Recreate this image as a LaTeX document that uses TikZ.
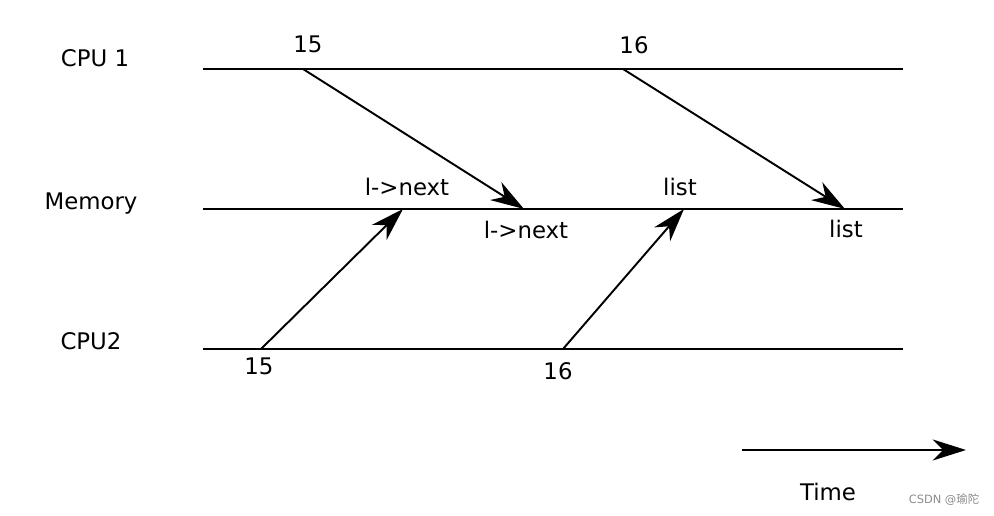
\documentclass[tikz,border=0pt]{standalone}
\usepackage{fontspec}
\setmainfont{DejaVu Sans}
\newfontfamily\cjkfont{Noto Sans CJK SC}
\usetikzlibrary{arrows.meta}
\begin{document}
\begin{tikzpicture}[x=0.02cm,y=-0.02cm,
  timeline/.style={line width=1.1pt},
  msg/.style={line width=1.1pt,-{Stealth[length=19pt,width=12pt,inset=6pt]}},
  lbl/.style={font=\fontsize{13}{15}\selectfont,inner sep=0pt}]
\useasboundingbox (0,0) rectangle (994,516);

% time lines
\coordinate (c1s) at (203,69);  \coordinate (c1e) at (903,69);
\coordinate (ms)  at (203,209); \coordinate (me)  at (903,209);
\coordinate (c2s) at (203,349); \coordinate (c2e) at (903,349);
\draw[timeline] (c1s) -- (c1e);
\draw[timeline] (ms) -- (me);
\draw[timeline] (c2s) -- (c2e);

% events
\coordinate (w15) at (303,69);  \coordinate (m15) at (524,209);
\coordinate (w16) at (623,69);  \coordinate (m16) at (845,209);
\coordinate (r15) at (261,349); \coordinate (n15) at (403,209);
\coordinate (r16) at (563,349); \coordinate (n16) at (684,209);
\draw[msg] (w15) -- (m15);
\draw[msg] (w16) -- (m16);
\draw[msg] (r15) -- (n15);
\draw[msg] (r16) -- (n16);

% time axis
\coordinate (t0) at (742,450); \coordinate (t1) at (966,450);
\draw[msg] (t0) -- (t1);

% labels
\node[lbl] (cpu1) at (95,58) {CPU 1};
\node[lbl] (mem) at (91,204) {Memory};
\node[lbl] (cpu2) at (91,341) {CPU2};
\node[lbl] (a) at (308,44) {15};
\node[lbl] (b) at (634,45) {16};
\node[lbl] (c) at (407,187) {l->next};
\node[lbl] (d) at (680,187) {list};
\node[lbl] (e) at (526,230) {l->next};
\node[lbl] (f) at (846,229) {list};
\node[lbl] (g) at (259,366) {15};
\node[lbl] (h) at (558,371) {16};
\node[lbl] (time) at (828,492) {Time};
\node[inner sep=0pt,text=black!45,font=\fontsize{6.5}{8}\selectfont] (wm) at (944,500) {CSDN @{\cjkfont 瑜陀}};
\end{tikzpicture}
\end{document}
